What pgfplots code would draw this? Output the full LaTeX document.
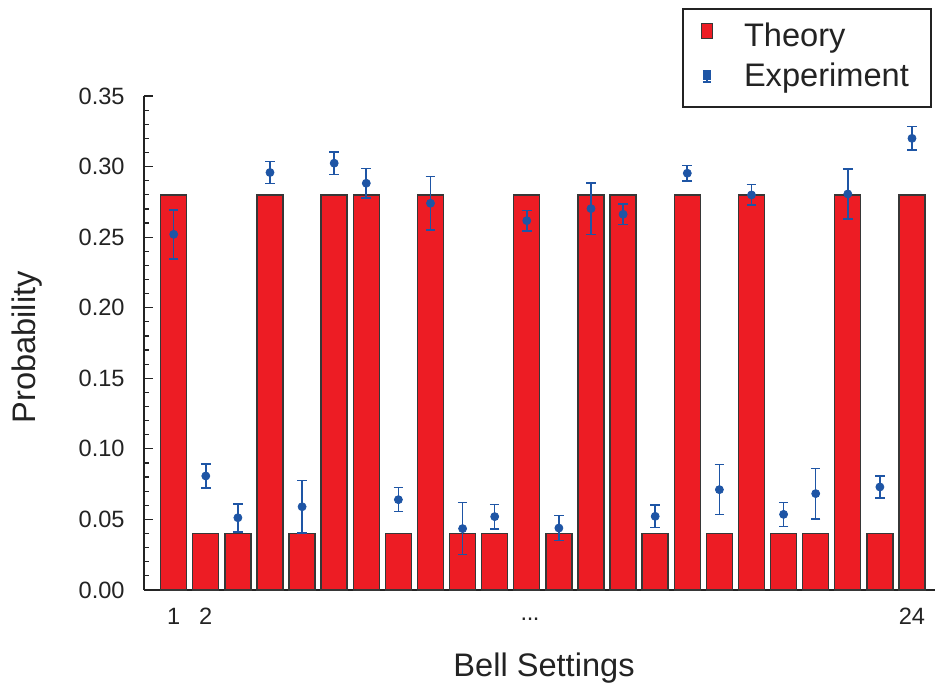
\documentclass[border=0pt]{standalone}
\usepackage{fontspec}
\setmainfont{Liberation Sans}
\usepackage{pgfplots}
\pgfplotsset{compat=1.18}
\usepackage{pgfplotstable}
\definecolor{barred}{RGB}{237,28,36}
\definecolor{ptblue}{RGB}{30,85,165}
\definecolor{edge}{RGB}{55,55,55}
\definecolor{axcol}{RGB}{35,35,35}
\newcommand{\tdots}{\raisebox{2pt}{.\kern-0.02em.\kern-0.02em.}}

\pgfplotstableread{
x  th    ex      err
1  0.28  0.2520  0.0173
2  0.04  0.0808  0.0085
3  0.04  0.0512  0.0099
4  0.28  0.2958  0.0078
5  0.04  0.0590  0.0187
6  0.28  0.3024  0.0080
7  0.28  0.2882  0.0105
8  0.04  0.0640  0.0085
9  0.28  0.2740  0.0190
10 0.04  0.0435  0.0184
11 0.04  0.0520  0.0087
12 0.28  0.2617  0.0073
13 0.04  0.0439  0.0088
14 0.28  0.2702  0.0182
15 0.28  0.2662  0.0073
16 0.04  0.0522  0.0079
17 0.28  0.2953  0.0054
18 0.04  0.0711  0.0177
19 0.28  0.2799  0.0073
20 0.04  0.0536  0.0085
21 0.04  0.0683  0.0178
22 0.28  0.2806  0.0177
23 0.04  0.0730  0.0079
24 0.28  0.3200  0.0083
}\data

\begin{document}
\begin{tikzpicture}
\begin{axis}[
  name=ax,
  scale only axis,
  width=395.5pt, height=247pt,
  xmin=0.075, xmax=24.717,
  ymin=0, ymax=0.35,
  axis x line=bottom, axis y line=left,
  axis line style={-, line width=1.3pt, color=axcol},
  tick align=inside,
  ytick={0,0.05,0.10,0.15,0.20,0.25,0.30,0.35},
  minor y tick num=4,
  major tick length=4.5pt, minor tick length=2.5pt,
  ytick style={line width=0.6pt, color=axcol},
  xtick style={draw=none},
  xtick={1,2,12.1,24},
  xticklabels={1,2,\tdots,24},
  /pgf/number format/assume math mode=true,
  yticklabel style={/pgf/number format/.cd, fixed, fixed zerofill, precision=2, assume math mode=true, /tikz/.cd,
     font=\fontsize{11.8}{14}\selectfont, inner sep=0pt, xshift=-9.5pt, color=axcol},
  xticklabel style={font=\fontsize{11.8}{14}\selectfont, anchor=base, inner sep=0pt, yshift=-17pt, color=axcol},
  ylabel={Probability},
  ylabel style={at={(axis description cs:-0.1473,0.491)}, anchor=center, inner sep=0pt,
     font=\fontsize{16.3}{19}\selectfont, color=axcol},
  xlabel={Bell Settings},
  xlabel style={at={(axis description cs:0.5057,-0.1755)}, anchor=base, inner sep=0pt,
     font=\fontsize{16.3}{19}\selectfont, color=axcol},
  legend cell align=left,
  legend style={at={(axis description cs:0.9962,1.1781)}, anchor=north east,
     draw=axcol, line width=1pt, fill=white,
     font=\fontsize{16.3}{19}\selectfont,
     inner xsep=9pt, inner ysep=6.85pt, row sep=5.18pt,
     nodes={inner sep=0pt, text height=11.67pt, text depth=3.15pt, text width=84.5pt, text=axcol},
     /tikz/every odd column/.append style={column sep=15.5pt}},
]
\addplot[ybar, bar width=13pt, fill=barred, draw=edge, line width=0.7pt,
  legend image code/.code={\draw[fill=barred, draw=edge, line width=0.6pt] (0pt,0pt) rectangle (5.5pt,7.5pt);}]
  table[x=x, y=th]{\data};
\addlegendentry{Theory}
\addplot[only marks, mark=*, mark size=2pt, color=ptblue, mark options={fill=ptblue, draw=ptblue},
  error bars/.cd, y dir=both, y explicit,
  error bar style={line width=0.8pt, ptblue},
  error mark options={rotate=90, mark size=2.4pt, line width=0.8pt, ptblue},
  /pgfplots/legend image code/.code={%
    \draw[ptblue, line width=0.7pt] (2.75pt,-1.8pt) -- (2.75pt,3.9pt);
    \draw[ptblue, line width=0.7pt] (0.75pt,-1.8pt) -- (4.75pt,-1.8pt) (0.75pt,3.9pt) -- (4.75pt,3.9pt);
    \fill[ptblue] (1.1pt,-0.1pt) rectangle (4.4pt,3.2pt);}]
  table[x=x, y=ex, y error=err]{\data};
\addlegendentry{Experiment}
\end{axis}
\pgfresetboundingbox
\path ([shift={(-72pt,-50.5pt)}]ax.south west) rectangle ([shift={(395.5pt,295pt)}]ax.south west);
\end{tikzpicture}
\end{document}
